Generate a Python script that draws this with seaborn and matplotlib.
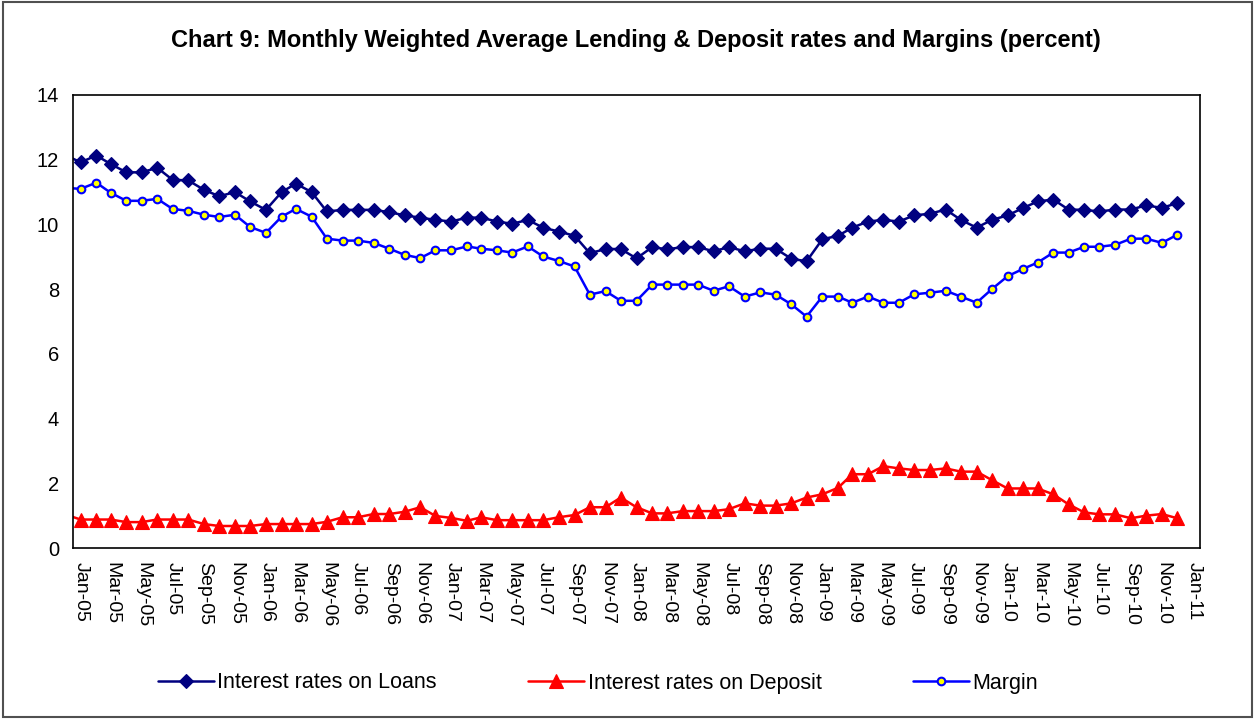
import pandas as pd
import matplotlib
matplotlib.use('Agg')
import matplotlib.pyplot as plt
import seaborn as sns

# monthly readings, Dec-04 (only its line segment shows) to Dec-10
month_labels = pd.date_range('2004-12-01', '2010-12-01', freq='MS')

loans = [12.15,
         11.92, 12.13, 11.87, 11.61, 11.61, 11.75, 11.38, 11.36, 11.07, 10.87, 11.00, 10.71,
         10.45, 11.00, 11.26, 11.00, 10.40, 10.45, 10.45, 10.45, 10.38, 10.28, 10.21, 10.14,
         10.09, 10.21, 10.21, 10.09, 10.02, 10.14, 9.90, 9.78, 9.65, 9.11, 9.24, 9.24,
         8.95, 9.30, 9.23, 9.30, 9.30, 9.17, 9.30, 9.17, 9.25, 9.25, 8.94, 8.86,
         9.54, 9.65, 9.90, 10.09, 10.14, 10.09, 10.28, 10.33, 10.46, 10.14, 9.90, 10.14,
         10.28, 10.51, 10.71, 10.77, 10.46, 10.45, 10.40, 10.46, 10.46, 10.59, 10.51, 10.66]

deposit = [1.04,
           0.88, 0.88, 0.88, 0.80, 0.80, 0.88, 0.88, 0.88, 0.74, 0.68, 0.68, 0.68,
           0.74, 0.74, 0.74, 0.74, 0.81, 0.95, 0.95, 1.05, 1.05, 1.12, 1.26, 0.99,
           0.93, 0.84, 0.95, 0.86, 0.86, 0.86, 0.86, 0.95, 1.02, 1.26, 1.26, 1.56,
           1.26, 1.07, 1.07, 1.14, 1.14, 1.14, 1.20, 1.38, 1.31, 1.31, 1.38, 1.56,
           1.66, 1.86, 2.28, 2.28, 2.53, 2.46, 2.41, 2.41, 2.46, 2.36, 2.36, 2.10,
           1.84, 1.84, 1.84, 1.66, 1.35, 1.10, 1.04, 1.04, 0.92, 1.00, 1.05, 0.92]

margin = [11.13,
          11.10, 11.29, 10.98, 10.73, 10.73, 10.79, 10.48, 10.42, 10.30, 10.23, 10.30, 9.92,
          9.74, 10.24, 10.48, 10.24, 9.56, 9.50, 9.50, 9.43, 9.25, 9.06, 8.96, 9.20,
          9.20, 9.32, 9.25, 9.20, 9.13, 9.32, 9.01, 8.87, 8.70, 7.83, 7.94, 7.64,
          7.64, 8.14, 8.14, 8.14, 8.14, 7.95, 8.09, 7.77, 7.90, 7.83, 7.53, 7.15,
          7.77, 7.77, 7.58, 7.77, 7.58, 7.58, 7.84, 7.89, 7.95, 7.77, 7.58, 8.00,
          8.40, 8.63, 8.82, 9.13, 9.13, 9.31, 9.31, 9.37, 9.56, 9.56, 9.43, 9.68]

series_names = ['Interest rates on Loans', 'Interest rates on Deposit', 'Margin']

# x-axis ticks every two months
tick_dates = pd.date_range('2005-01-01', '2011-01-01', freq='2MS')
tick_labels = [d.strftime('%b-%y') for d in tick_dates]

df = pd.DataFrame({
    'date': month_labels + pd.Timedelta(days=15),  # points sit mid-month
    'loans': loans,
    'deposit': deposit,
    'margin': margin,
})

sns.set_theme(style='white')
plt.rcParams['font.family'] = ['Liberation Sans', 'DejaVu Sans']
plt.rcParams['text.color'] = 'black'
plt.rcParams['xtick.color'] = 'black'
plt.rcParams['ytick.color'] = 'black'

fig = plt.figure(figsize=(12.56, 7.19), dpi=100)
ax = fig.add_axes([73 / 1256, 1 - 548 / 719, (1200 - 73) / 1256, (548 - 95) / 719])

skip_first = list(range(1, len(df)))

sns.lineplot(data=df, x='date', y='loans', ax=ax, color='#000080', linewidth=1.8,
             marker='D', markersize=7.5, markeredgecolor='#000080', markeredgewidth=0.8,
             markevery=skip_first, label=series_names[0])
sns.lineplot(data=df, x='date', y='deposit', ax=ax, color='#FF0000', linewidth=1.8,
             marker='^', markersize=10, markeredgecolor='#FF0000', markeredgewidth=0.8,
             markevery=skip_first, label=series_names[1])
sns.lineplot(data=df, x='date', y='margin', ax=ax, color='#0000FF', linewidth=1.8,
             marker='o', markersize=5.5, markerfacecolor='#FFFF00', markeredgecolor='#0000FF',
             markeredgewidth=1.5, markevery=skip_first, label=series_names[2])

ax.set_xlim(pd.Timestamp('2005-01-01'), pd.Timestamp('2011-01-30'))
ax.set_ylim(0, 14)
ax.set_yticks(range(0, 15, 2))
ax.set_xticks(tick_dates)
ax.set_xticklabels(tick_labels, rotation=270, ha='left', va='top', fontsize=14)
ax.tick_params(axis='y', labelsize=14.5, direction='out', length=6, width=1, color='black', pad=4)
ax.tick_params(axis='x', direction='out', length=6, width=1, color='black', pad=4)
ax.set_xlabel('')
ax.set_ylabel('')
for s in ax.spines.values():
    s.set_color('black')
    s.set_linewidth(1.2)

# legend below the plot
handles, labels = ax.get_legend_handles_labels()
if ax.get_legend() is not None:
    ax.get_legend().remove()
fig.legend(handles, labels, loc='center', bbox_to_anchor=(598 / 1256, 1 - 683 / 719),
           ncol=3, frameon=False, fontsize=15.5, handlelength=2.6, handletextpad=0.15,
           columnspacing=4.25)

fig.text(636 / 1256, 1 - 40 / 719,
         'Chart 9: Monthly Weighted Average Lending & Deposit rates and Margins (percent)',
         ha='center', va='center', fontsize=17, fontweight='bold')

# outer chart border
fig.add_artist(plt.Rectangle((0.002, 0.003), 0.995, 0.994, transform=fig.transFigure,
                             fill=False, edgecolor='#505050', linewidth=1.5))

fig.savefig('out.png', dpi=100)
